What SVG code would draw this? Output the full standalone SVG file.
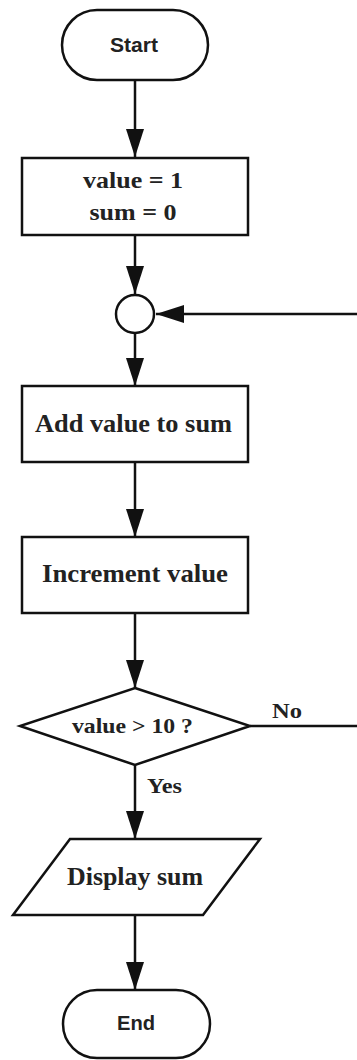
<svg xmlns="http://www.w3.org/2000/svg" width="357" height="1060" viewBox="0 0 357 1060">
  <style>
    .shape { fill: #ffffff; stroke: #111111; stroke-width: 2.5; }
    .edge { fill: none; stroke: #111111; stroke-width: 2.5; }
    .sans { font-family: "Liberation Sans", Arial, sans-serif; font-weight: bold; fill: #222222; text-anchor: middle; }
    .serif { font-family: "Liberation Serif", "Times New Roman", serif; font-weight: bold; fill: #222222; text-anchor: middle; }
    .lbl { font-family: "Liberation Serif", "Times New Roman", serif; font-weight: bold; fill: #222222; font-size: 22px; }
  </style>
  <defs>
    <marker id="arrow" viewBox="0 0 28 18" refX="28" refY="9" markerWidth="28" markerHeight="18" markerUnits="userSpaceOnUse" orient="auto">
      <path d="M0,0 L28,9 L0,18 Z" fill="#111111"/>
    </marker>
  </defs>
  <rect width="357" height="1060" fill="#ffffff"/>

  <g id="connectors">
    <line class="edge" x1="135" y1="80" x2="135" y2="157" marker-end="url(#arrow)"/>
    <line class="edge" x1="135" y1="235" x2="135" y2="294" marker-end="url(#arrow)"/>
    <line class="edge" x1="357" y1="314" x2="156" y2="314" marker-end="url(#arrow)"/>
    <line class="edge" x1="135" y1="334" x2="135" y2="386" marker-end="url(#arrow)"/>
    <line class="edge" x1="135" y1="462" x2="135" y2="537" marker-end="url(#arrow)"/>
    <line class="edge" x1="135" y1="613" x2="135" y2="688" marker-end="url(#arrow)"/>
    <line class="edge" x1="250" y1="726" x2="357" y2="726"/>
    <line class="edge" x1="135" y1="765" x2="135" y2="839" marker-end="url(#arrow)"/>
    <line class="edge" x1="135" y1="915" x2="135" y2="990" marker-end="url(#arrow)"/>
    <text class="lbl" x="272" y="718" textLength="30" lengthAdjust="spacingAndGlyphs">No</text>
    <text class="lbl" x="147" y="793" textLength="35" lengthAdjust="spacingAndGlyphs">Yes</text>
  </g>

  <g id="start">
    <rect class="shape" x="62" y="10" width="146" height="70" rx="35" ry="35"/>
    <text class="sans" x="134" y="52" font-size="21" textLength="48" lengthAdjust="spacingAndGlyphs">Start</text>
  </g>

  <g id="init">
    <rect class="shape" x="22" y="158" width="226" height="77"/>
    <text class="serif" x="133" y="188" font-size="24" textLength="100" lengthAdjust="spacingAndGlyphs">value = 1</text>
    <text class="serif" x="133" y="220" font-size="24" textLength="87" lengthAdjust="spacingAndGlyphs">sum = 0</text>
  </g>

  <g id="join">
    <circle class="shape" cx="135" cy="314" r="19"/>
  </g>

  <g id="add">
    <rect class="shape" x="22" y="386" width="226" height="76"/>
    <text class="serif" x="133.5" y="432" font-size="25" textLength="197" lengthAdjust="spacingAndGlyphs">Add value to sum</text>
  </g>

  <g id="increment">
    <rect class="shape" x="22" y="537" width="226" height="76"/>
    <text class="serif" x="135" y="582" font-size="25" textLength="186" lengthAdjust="spacingAndGlyphs">Increment value</text>
  </g>

  <g id="check">
    <polygon class="shape" points="135,688 250,726 135,765 20,726"/>
    <text class="serif" x="132.5" y="733" font-size="22" textLength="121" lengthAdjust="spacingAndGlyphs">value &gt; 10 ?</text>
  </g>

  <g id="display">
    <polygon class="shape" points="70,839 260,839 203,915 13,915"/>
    <text class="serif" x="135" y="885" font-size="25" textLength="136" lengthAdjust="spacingAndGlyphs">Display sum</text>
  </g>

  <g id="end">
    <rect class="shape" x="63" y="990" width="147" height="68" rx="34" ry="34"/>
    <text class="sans" x="136" y="1030" font-size="20" textLength="38" lengthAdjust="spacingAndGlyphs">End</text>
  </g>
</svg>
